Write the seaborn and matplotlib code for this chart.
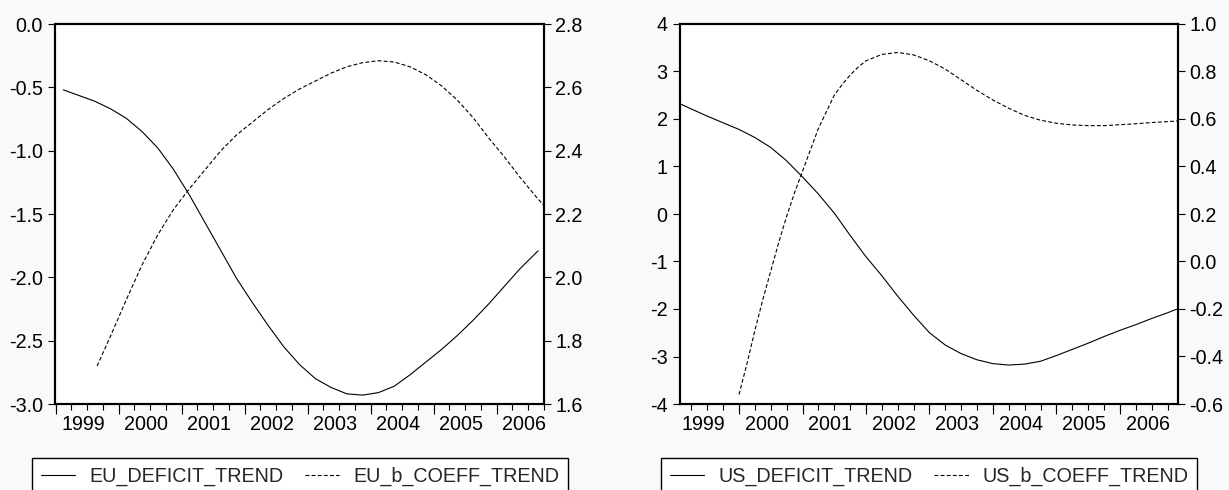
import numpy as np
import pandas as pd
import matplotlib
matplotlib.use("Agg")
import matplotlib.pyplot as plt
import seaborn as sns
from matplotlib.ticker import FixedLocator

# ---------------- data ----------------
years = [1999, 2000, 2001, 2002, 2003, 2004, 2005, 2006]
year_labels = ["1999", "2000", "2001", "2002", "2003", "2004", "2005", "2006"]

eu_deficit_t = [1999.125, 1999.375, 1999.625, 1999.875, 2000.125, 2000.375, 2000.625,
                2000.875, 2001.125, 2001.375, 2001.625, 2001.875, 2002.125, 2002.375,
                2002.625, 2002.875, 2003.125, 2003.375, 2003.625, 2003.875, 2004.125,
                2004.375, 2004.625, 2004.875, 2005.125, 2005.375, 2005.625, 2005.875,
                2006.125, 2006.375, 2006.66]
eu_deficit = [-0.52, -0.565, -0.61, -0.67, -0.745, -0.85, -0.98,
              -1.15, -1.35, -1.57, -1.79, -2.01, -2.20, -2.38,
              -2.55, -2.69, -2.80, -2.87, -2.92, -2.93, -2.91,
              -2.86, -2.77, -2.67, -2.57, -2.46, -2.34, -2.21,
              -2.07, -1.93, -1.79]

eu_coeff_t = [1999.66, 1999.875, 2000.125, 2000.375, 2000.625, 2000.875, 2001.125,
              2001.375, 2001.625, 2001.875, 2002.125, 2002.375, 2002.625, 2002.875,
              2003.125, 2003.375, 2003.625, 2003.875, 2004.125, 2004.375, 2004.625,
              2004.875, 2005.125, 2005.375, 2005.625, 2005.875, 2006.125, 2006.375,
              2006.625, 2006.757]
eu_coeff = [1.72, 1.815, 1.93, 2.04, 2.135, 2.215, 2.28,
            2.34, 2.40, 2.45, 2.49, 2.53, 2.565, 2.595,
            2.62, 2.645, 2.665, 2.678, 2.684, 2.68, 2.665,
            2.64, 2.605, 2.56, 2.505, 2.44, 2.38, 2.315,
            2.255, 2.225]

us_deficit_t = [1999.07, 1999.25, 1999.5, 1999.75, 2000.0, 2000.25, 2000.5, 2000.75,
                2001.0, 2001.25, 2001.5, 2001.75, 2002.0, 2002.25, 2002.5, 2002.75,
                2003.0, 2003.25, 2003.5, 2003.75, 2004.0, 2004.25, 2004.5, 2004.75,
                2005.0, 2005.25, 2005.5, 2005.75, 2006.0, 2006.25, 2006.5, 2006.75,
                2006.92]
us_deficit = [2.32, 2.21, 2.06, 1.92, 1.78, 1.61, 1.40, 1.12,
              0.78, 0.42, 0.02, -0.45, -0.90, -1.30, -1.73, -2.13,
              -2.50, -2.76, -2.94, -3.07, -3.15, -3.18, -3.16, -3.10,
              -2.98, -2.85, -2.72, -2.58, -2.45, -2.33, -2.20, -2.08,
              -1.99]

us_coeff_t = [2000.0, 2000.125, 2000.25, 2000.375, 2000.5, 2000.625, 2000.75, 2000.875,
              2001.0, 2001.125, 2001.25, 2001.375, 2001.5, 2001.625, 2001.75, 2001.875,
              2002.0, 2002.25, 2002.5, 2002.75, 2003.0, 2003.25, 2003.5, 2003.75,
              2004.0, 2004.25, 2004.5, 2004.75, 2005.0, 2005.25, 2005.5, 2005.75,
              2006.0, 2006.25, 2006.5, 2006.75, 2006.92]
us_coeff = [-0.56, -0.43, -0.29, -0.16, -0.04, 0.08, 0.19, 0.29,
            0.38, 0.47, 0.56, 0.63, 0.70, 0.745, 0.785, 0.818,
            0.845, 0.872, 0.88, 0.87, 0.845, 0.81, 0.765, 0.72,
            0.68, 0.645, 0.615, 0.595, 0.582, 0.575, 0.572, 0.572,
            0.576, 0.58, 0.585, 0.589, 0.592]

eu_left_ticks = [0.0, -0.5, -1.0, -1.5, -2.0, -2.5, -3.0]
eu_left_labels = ["0.0", "-0.5", "-1.0", "-1.5", "-2.0", "-2.5", "-3.0"]
eu_right_ticks = [2.8, 2.6, 2.4, 2.2, 2.0, 1.8, 1.6]
eu_right_labels = ["2.8", "2.6", "2.4", "2.2", "2.0", "1.8", "1.6"]
us_left_ticks = [4, 3, 2, 1, 0, -1, -2, -3, -4]
us_left_labels = ["4", "3", "2", "1", "0", "-1", "-2", "-3", "-4"]
us_right_ticks = [1.0, 0.8, 0.6, 0.4, 0.2, 0.0, -0.2, -0.4, -0.6]
us_right_labels = ["1.0", "0.8", "0.6", "0.4", "0.2", "0.0", "-0.2", "-0.4", "-0.6"]

eu_names = ["EU_DEFICIT_TREND", "EU_b_COEFF_TREND"]
us_names = ["US_DEFICIT_TREND", "US_b_COEFF_TREND"]

# ---------------- style ----------------
sns.set_theme(style="ticks")
plt.rcParams["font.family"] = ["Liberation Sans", "DejaVu Sans"]
plt.rcParams["axes.unicode_minus"] = False

FS = 14.2
DASH = (0, (3.5, 2.0))
LW = 0.8

W, H = 1229, 490
fig = plt.figure(figsize=(W / 100, H / 100), dpi=100)
fig.patch.set_facecolor("#f9f9f9")


def make_panel(rect, xlim, left_ticks, left_labels, left_lim,
               right_ticks, right_labels, right_lim,
               t1, v1, t2, v2, names):
    ax = fig.add_axes(rect)
    ax.set_facecolor("white")
    ax2 = ax.twinx()

    df1 = pd.DataFrame({"t": t1, "v": v1})
    df2 = pd.DataFrame({"t": t2, "v": v2})
    sns.lineplot(data=df1, x="t", y="v", ax=ax, color="black", linewidth=LW,
                 estimator=None, sort=False, label=names[0])
    sns.lineplot(data=df2, x="t", y="v", ax=ax2, color="black", linewidth=LW,
                 linestyle=DASH, estimator=None, sort=False, label=names[1])

    ax.set_xlim(*xlim)
    ax.set_ylim(*left_lim)
    ax2.set_ylim(*right_lim)
    ax.set_xlabel("")
    ax.set_ylabel("")
    ax2.set_ylabel("")

    # y ticks
    ax.set_yticks(left_ticks)
    ax.set_yticklabels(left_labels)
    ax2.set_yticks(right_ticks)
    ax2.set_yticklabels(right_labels)
    ax.tick_params(axis="y", direction="out", length=5, width=0.8, pad=4,
                   labelsize=FS, colors="black")
    ax2.tick_params(axis="y", direction="out", length=5, width=0.8, pad=3,
                    labelsize=FS, colors="black")

    # x ticks: short ticks every quarter on the main axis
    quarters = [y + q for y in range(1998, 2008) for q in (0.0, 0.25, 0.5, 0.75)]
    ax.xaxis.set_major_locator(FixedLocator(quarters))
    ax.tick_params(axis="x", which="major", direction="out", length=4, width=0.8,
                   labelbottom=False, colors="black")
    ax.xaxis.set_minor_locator(FixedLocator([]))

    # tall ticks at the start of each year
    sec_y = ax.secondary_xaxis("bottom")
    sec_y.set_xticks(years, labels=[""] * len(years))
    sec_y.tick_params(axis="x", direction="out", length=7, width=0.8,
                      colors="black")
    for s in sec_y.spines.values():
        s.set_visible(False)

    # year labels centred within each year
    sec_l = ax.secondary_xaxis("bottom")
    sec_l.set_xticks([y + 0.44 for y in years], labels=year_labels)
    sec_l.tick_params(axis="x", length=0, pad=8, labelsize=FS, colors="black")
    for s in sec_l.spines.values():
        s.set_visible(False)

    for a in (ax, ax2):
        for s in a.spines.values():
            s.set_visible(True)
            s.set_linewidth(1.5)
            s.set_color("black")

    h1 = ax.get_lines()[0]
    h2 = ax2.get_lines()[0]
    if ax2.get_legend() is not None:
        ax2.get_legend().remove()
    leg = ax.legend([h1, h2], names, loc="upper center",
                    bbox_to_anchor=(0.5, -0.142), ncol=2, frameon=True,
                    fancybox=False, edgecolor="black", facecolor="white",
                    framealpha=1, handlelength=1.75, handletextpad=0.7,
                    columnspacing=1.1, borderpad=0.45, borderaxespad=0,
                    fontsize=FS)
    leg.get_frame().set_linewidth(1.0)
    return ax, ax2


make_panel([55.5 / W, 86 / H, 488.8 / W, 380 / H], (1999.0, 2006.757),
           eu_left_ticks, eu_left_labels, (-3.0, 0.0),
           eu_right_ticks, eu_right_labels, (1.6, 2.8),
           eu_deficit_t, eu_deficit, eu_coeff_t, eu_coeff, eu_names)

make_panel([680 / W, 86 / H, 498.3 / W, 380 / H], (1999.07, 2006.92),
           us_left_ticks, us_left_labels, (-4, 4),
           us_right_ticks, us_right_labels, (-0.6, 1.0),
           us_deficit_t, us_deficit, us_coeff_t, us_coeff, us_names)

fig.savefig("out.png", dpi=100, facecolor=fig.get_facecolor())
